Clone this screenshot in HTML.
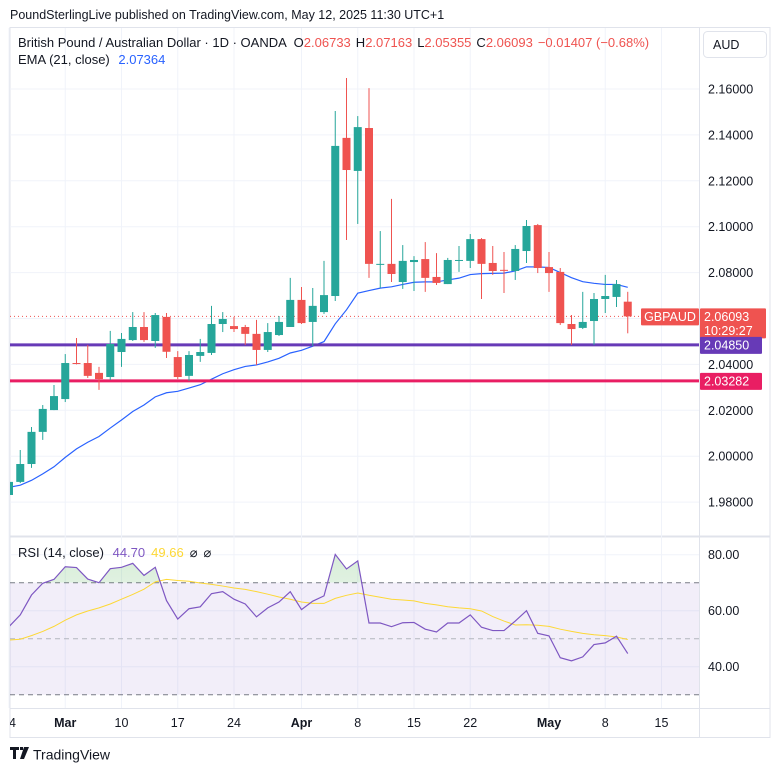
<!DOCTYPE html>
<html><head><meta charset="utf-8"><style>
html,body{margin:0;padding:0;background:#fff;}
svg{display:block;font-family:"Liberation Sans",sans-serif;}
</style></head><body>
<svg id="chart" width="781" height="772" viewBox="0 0 781 772" xmlns="http://www.w3.org/2000/svg">
<defs>
<clipPath id="mainClip"><rect x="10" y="28" width="689" height="508"/></clipPath>
<clipPath id="rsiClip"><rect x="10" y="537" width="689" height="171"/></clipPath>
<clipPath id="aboveClip"><rect x="10" y="537" width="689" height="45.7"/></clipPath>
<clipPath id="timeClip"><rect x="10" y="708" width="689" height="30"/></clipPath>
<linearGradient id="obGrad" x1="0" y1="0" x2="0" y2="1"><stop offset="0" stop-color="#4caf50" stop-opacity="0.22"/><stop offset="1" stop-color="#4caf50" stop-opacity="0.04"/></linearGradient>
</defs>
<text x="10" y="19" font-size="12.5" fill="#131722">PoundSterlingLive published on TradingView.com, May 12, 2025 11:30 UTC+1</text>
<rect x="10" y="27.5" width="760" height="710" fill="none" stroke="#e0e3eb" stroke-width="1"/>
<line x1="699.5" y1="28" x2="699.5" y2="738" stroke="#e0e3eb"/>
<line x1="10" y1="536.5" x2="770" y2="536.5" stroke="#e0e3eb" stroke-width="2"/>
<line x1="10" y1="708.5" x2="770" y2="708.5" stroke="#e0e3eb"/>
<g id="grid"></g>
<g id="mainPane" clip-path="url(#mainClip)"></g>
<g id="rsiPane" clip-path="url(#rsiClip)"></g>
<g id="axes"></g>
<g id="timeAxis" clip-path="url(#timeClip)"></g>
<text x="18" y="47" font-size="13" fill="#131722">British Pound / Australian Dollar · 1D · OANDA <tspan dx="4">O</tspan><tspan fill="#ef5350">2.06733</tspan><tspan dx="5">H</tspan><tspan fill="#ef5350">2.07163</tspan><tspan dx="5">L</tspan><tspan fill="#ef5350">2.05355</tspan><tspan dx="5">C</tspan><tspan fill="#ef5350">2.06093</tspan><tspan dx="5" fill="#ef5350">−0.01407 (−0.68%)</tspan></text>
<text x="18" y="64" font-size="13" fill="#131722">EMA (21, close) <tspan dx="5" fill="#2962ff">2.07364</tspan></text>
<text x="18" y="557" font-size="13" fill="#131722">RSI (14, close) <tspan dx="5" fill="#7e57c2">44.70</tspan><tspan dx="6" fill="#fdd835">49.66</tspan><tspan dx="6">⌀</tspan><tspan dx="6">⌀</tspan></text>
<rect x="703.5" y="31.5" width="63" height="26" rx="4" fill="#fff" stroke="#e0e3eb"/>
<text x="713" y="49" font-size="12.5" fill="#131722">AUD</text>
<g transform="translate(10,747)">
<path d="M0 0h9v3h-3v9h-3v-9h-3z M10 0h3v3h-3z M14 0h5l-5 12h-4z" fill="#131722"/>
<text x="23" y="12.5" font-size="14" fill="#131722">TradingView</text>
</g>
</svg>
<script>
// ---- data ----
const dayLabels=["24","Mar","10","17","24","Apr","8","15","22","May","8","15"];
const dayIdx=[0,5,10,15,20,26,31,36,41,48,53,58];
const dayBold=[0,1,0,0,0,1,0,0,0,1,0,0];
const opens=[1.9831,1.9888,1.9966,2.0106,2.0201,2.0249,2.0406,2.0406,2.0363,2.0345,2.0454,2.0506,2.0563,2.0502,2.0607,2.0432,2.0350,2.0437,2.0450,2.0576,2.0567,2.0563,2.0533,2.0463,2.0528,2.0563,2.0681,2.0585,2.0628,2.0698,2.1387,2.1243,2.1430,2.0834,2.0838,2.0759,2.0846,2.0859,2.0781,2.0750,2.0851,2.0851,2.0946,2.0842,2.0812,2.0807,2.0894,2.1007,2.0824,2.0803,2.0576,2.0559,2.0589,2.0685,2.0694,2.06733];
const highs=[1.9890,2.0027,2.0127,2.0223,2.0310,2.0445,2.0515,2.0485,2.0389,2.0546,2.0537,2.0628,2.0628,2.0624,2.0624,2.0458,2.0458,2.0511,2.0655,2.0628,2.0607,2.0572,2.0594,2.0580,2.0611,2.0777,2.0737,2.0733,2.0851,2.1504,2.1648,2.1482,2.1604,2.0981,2.1121,2.0920,2.0872,2.0933,2.0885,2.0864,2.0916,2.0968,2.0950,2.0916,2.0890,2.0920,2.1029,2.1012,2.0890,2.0820,2.0615,2.0716,2.0711,2.0790,2.0768,2.07163];
const lows=[1.9825,1.9883,1.9949,2.0071,2.0201,2.0236,2.0400,2.0341,2.0289,2.0332,2.0389,2.0502,2.0498,2.0472,2.0428,2.0336,2.0328,2.0411,2.0441,2.0541,2.0541,2.0485,2.0397,2.0454,2.0524,2.0563,2.0576,2.0480,2.0620,2.0676,2.0942,2.1012,2.0777,2.0733,2.0759,2.0729,2.0720,2.0716,2.0746,2.0750,2.0803,2.0820,2.0685,2.0790,2.0711,2.0768,2.0842,2.0798,2.0716,2.0572,2.0485,2.0554,2.0485,2.0624,2.0650,2.05355];
const closes=[1.9888,1.9966,2.0106,2.0206,2.0262,2.0406,2.0402,2.0350,2.0336,2.0489,2.0511,2.0563,2.0506,2.0615,2.0455,2.0345,2.0441,2.0454,2.0576,2.0598,2.0554,2.0533,2.0463,2.0541,2.0585,2.0681,2.0580,2.0655,2.0702,2.1352,2.1247,2.1434,2.0838,2.0838,2.0794,2.0851,2.0855,2.0777,2.0755,2.0855,2.0855,2.0946,2.0838,2.0807,2.0808,2.0903,2.1003,2.0820,2.0798,2.0580,2.0554,2.0585,2.0685,2.0698,2.0750,2.06093];
const emaSeed=1.9862;
const rsiValues=[54.3,58.5,65.6,69.8,71.2,75.7,75.4,71.3,70.0,75.0,75.5,76.9,72.6,75.5,63.6,57.0,60.7,61.4,66.1,66.8,64.1,62.4,57.8,61.0,63.1,66.8,60.4,63.4,65.3,80.1,74.9,77.8,55.6,55.6,54.3,55.7,55.8,53.4,52.4,55.6,55.6,58.5,54.1,52.9,52.9,56.3,60.0,51.9,51.0,43.2,42.1,43.5,47.9,48.5,50.9,44.7];
const rsiMa=[49.5,49.8,51.1,52.6,54.4,56.6,58.5,59.9,61.0,62.4,64.1,65.8,67.7,70.3,71.2,70.8,70.5,69.9,69.4,68.8,68.1,67.6,66.8,65.9,64.9,64.1,63.1,62.6,62.6,64.4,65.5,66.3,65.5,64.8,64.1,63.8,63.5,62.6,62.1,61.4,61.0,60.7,59.9,57.9,56.3,54.9,55.0,54.8,54.4,53.4,52.6,51.9,51.4,51.1,50.6,49.7];
const priceTicks=[2.16,2.14,2.12,2.10,2.08,2.06,2.04,2.02,2.00,1.98];
const rsiTicks=[80,60,40];
const supportLevels=[2.0485,2.03282];
// ---- scales ----
const NS="http://www.w3.org/2000/svg";
const xOf=i=>9+i*11.25;
const yP=p=>89+(2.16-p)*2295;
const yR=v=>638.7-(v-50)*2.8;
function mk(tag,attrs,parent){const e=document.createElementNS(NS,tag);for(const k in attrs)e.setAttribute(k,attrs[k]);parent.appendChild(e);return e;}
const grid=document.getElementById('grid'),main=document.getElementById('mainPane'),rsi=document.getElementById('rsiPane'),axes=document.getElementById('axes'),tax=document.getElementById('timeAxis');
priceTicks.forEach(p=>{const l=mk('line',{x1:10,x2:699,y1:yP(p),y2:yP(p),stroke:'#f0f3fa'},grid);


const t=mk('text',{x:708,y:yP(p)+4.5,'font-size':12.5,fill:'#131722'},axes);t.textContent=p.toFixed(5);

});
rsiTicks.forEach(v=>{const l=mk('line',{x1:10,x2:699,y1:yR(v),y2:yR(v),stroke:'#f0f3fa'},grid);


const t=mk('text',{x:708,y:yR(v)+4.5,'font-size':12.5,fill:'#131722'},axes);t.textContent=v.toFixed(2);

});
dayIdx.forEach((d,k)=>{const x=xOf(d);const l=mk('line',{x1:x,x2:x,y1:28,y2:708,stroke:'#f0f3fa'},grid);


const t=mk('text',{x:x,y:727,'font-size':12.5,fill:'#131722','text-anchor':'middle','font-weight':dayBold[k]?'bold':'normal'},tax);t.textContent=dayLabels[k];

});
let e=emaSeed;const a=2/22;let pts=[];
closes.forEach((c,i)=>{e=e+a*(c-e);pts.push(xOf(i)+','+yP(e));});
const ema=mk('polyline',{points:pts.join(' '),fill:'none',stroke:'#2962ff','stroke-width':1.2},main);


const lc=['#673ab7','#e91e63'];
supportLevels.forEach((p,k)=>{const l=mk('line',{x1:10,x2:699,y1:yP(p),y2:yP(p),stroke:lc[k],'stroke-width':3},main);

});
const lastC=closes[closes.length-1];
const dl=mk('line',{x1:10,x2:699,y1:yP(lastC),y2:yP(lastC),stroke:'#ef5350','stroke-dasharray':'1 3'},main);


closes.forEach((c,i)=>{const o=opens[i],up=c>=o,col=up?'#26a69a':'#ef5350',x=xOf(i);
const g=mk('g',{},main);


mk('line',{x1:x,x2:x,y1:yP(highs[i]),y2:yP(lows[i]),stroke:col,'stroke-width':1},g);
const top=yP(Math.max(o,c)),bot=yP(Math.min(o,c));
mk('rect',{x:x-4,y:top,width:8,height:Math.max(1,bot-top),fill:col},g);});
const band=mk('rect',{x:10,y:yR(70),width:689,height:yR(30)-yR(70),fill:'#7e57c2','fill-opacity':0.1},rsi);


[[70,'#787b86'],[50,'#b2b5be'],[30,'#787b86']].forEach(([v,c])=>{const l=mk('line',{x1:10,x2:699,y1:yR(v),y2:yR(v),stroke:c,'stroke-dasharray':'5 4'},rsi);

});
let rp=rsiValues.map((v,i)=>xOf(i)+','+yR(v));
const fillPts=xOf(0)+','+yR(70)+' '+rp.join(' ')+' '+xOf(rsiValues.length-1)+','+yR(70);
const ob=mk('polygon',{points:fillPts,fill:'url(#obGrad)','clip-path':'url(#aboveClip)'},rsi);


const ma=mk('polyline',{points:rsiMa.map((v,i)=>xOf(i)+','+yR(v)).join(' '),fill:'none',stroke:'#fdd835','stroke-width':1},rsi);


const rl=mk('polyline',{points:rp.join(' '),fill:'none',stroke:'#7e57c2','stroke-width':1.2},rsi);


function tag(y,h,w,fill,lines,name){const g=mk('g',{},axes);


mk('rect',{x:700,y:y,width:w,height:h,fill:fill,rx:1},g);
lines.forEach((s,k)=>{const t=mk('text',{x:704,y:y+12.5+k*14,'font-size':12.5,fill:'#fff'},g);t.textContent=s;});}
const ly=yP(lastC);
const gl=mk('g',{},axes);


mk('rect',{x:641,y:ly-8,width:58,height:17,fill:'#ef5350',rx:1},gl);
const gt=mk('text',{x:670,y:ly+4.5,'font-size':12.5,fill:'#fff','text-anchor':'middle'},gl);gt.textContent='GBPAUD';
tag(ly-8,30,66,'#ef5350',[lastC.toFixed(5),'10:29:27'],'last-price-tag');
tag(yP(supportLevels[0])-8,17,62,'#673ab7',[supportLevels[0].toFixed(5)],'support-1-tag');
tag(yP(supportLevels[1])-8,17,62,'#e91e63',[supportLevels[1].toFixed(5)],'support-2-tag');
</script>
</body></html>
